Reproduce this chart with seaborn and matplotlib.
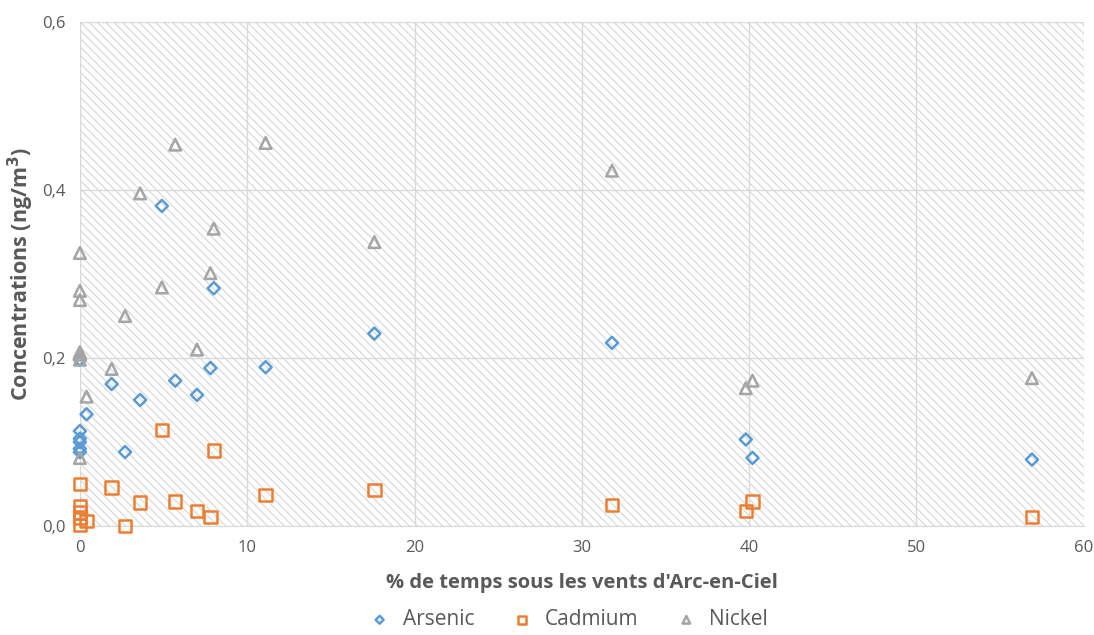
import matplotlib
matplotlib.use('Agg')
import matplotlib.pyplot as plt
import pandas as pd
import numpy as np
import seaborn as sns
from matplotlib.patches import Rectangle
from matplotlib.ticker import FuncFormatter

# Données
arsenic_x = [0, 0, 0, 0, 0, 0, 0.4, 1.9, 2.7, 3.6, 4.9, 5.7, 7.0, 7.8, 8.0, 11.1, 17.6, 31.8, 39.8, 40.2, 56.9]
arsenic_y = [0.198, 0.113, 0.104, 0.100, 0.092, 0.088, 0.133, 0.169, 0.088, 0.150, 0.381, 0.173, 0.156, 0.188, 0.283, 0.189, 0.229, 0.218, 0.103, 0.081, 0.079]

cadmium_x = [0, 0, 0, 0, 0, 0.4, 1.9, 2.7, 3.6, 4.9, 5.7, 7.0, 7.8, 8.0, 11.1, 17.6, 31.8, 39.8, 40.2, 56.9]
cadmium_y = [0.050, 0.023, 0.016, 0.010, 0.001, 0.006, 0.046, 0.000, 0.028, 0.114, 0.029, 0.018, 0.011, 0.090, 0.037, 0.043, 0.025, 0.018, 0.029, 0.011]

nickel_x = [0, 0, 0, 0, 0, 0, 0, 0.4, 1.9, 2.7, 3.6, 4.9, 5.7, 7.0, 7.8, 8.0, 11.1, 17.6, 31.8, 39.8, 40.2, 56.9]
nickel_y = [0.325, 0.280, 0.269, 0.207, 0.204, 0.198, 0.081, 0.154, 0.187, 0.250, 0.396, 0.284, 0.454, 0.210, 0.301, 0.354, 0.456, 0.338, 0.423, 0.164, 0.173, 0.176]

series = [
    ('Arsenic', arsenic_x, arsenic_y, '#5B9BD5', 'D', 38),
    ('Cadmium', cadmium_x, cadmium_y, '#ED7D31', 's', 80),
    ('Nickel', nickel_x, nickel_y, '#A5A5A5', '^', 70),
]

sns.set_style('white')
plt.rcParams['font.family'] = ['Open Sans', 'DejaVu Sans']
plt.rcParams['hatch.linewidth'] = 0.8

fig = plt.figure(figsize=(10.94, 6.35), dpi=100)
ax = fig.add_axes([0.073, 0.1717, 0.9177, 0.7936])

# fond hachuré
fond = Rectangle((0, 0), 1, 1, transform=ax.transAxes, facecolor='white',
                 edgecolor='#d6d6d6', hatch='\\\\\\\\', linewidth=0, zorder=0.1)
ax.add_patch(fond)

for nom, xs, ys, couleur, marqueur, taille in series:
    sns.scatterplot(x=xs, y=ys, ax=ax, marker=marqueur, s=taille,
                    facecolors='none', edgecolor=couleur, linewidth=1.8,
                    label=nom, clip_on=False, zorder=3)

ax.set_xlim(0, 60)
ax.set_ylim(0, 0.6)
ax.set_xticks(np.arange(0, 61, 10))
ax.set_yticks([0, 0.2, 0.4, 0.6])
ax.yaxis.set_major_formatter(FuncFormatter(lambda v, p: ('%.1f' % v).replace('.', ',')))

ax.grid(True, color='#d9d9d9', linewidth=1)
ax.set_axisbelow(True)
for s in ['top', 'right', 'left']:
    ax.spines[s].set_visible(False)
ax.spines['bottom'].set_color('#d9d9d9')
ax.tick_params(length=0, labelsize=12, labelcolor='#595959', pad=10)

ax.set_xlabel("% de temps sous les vents d'Arc-en-Ciel", fontsize=14.5, fontweight='bold',
              color='#595959', labelpad=12)
ax.set_ylabel('Concentrations (ng/m$^\\mathbf{3}$)', fontsize=15.5, fontweight='bold',
              color='#595959', labelpad=5)

handles, labels = ax.get_legend_handles_labels()
ax.get_legend().remove()
fig.legend(handles, labels, loc='lower center', ncol=3, frameon=False,
           bbox_to_anchor=(0.515, -0.022), fontsize=15, labelcolor='#595959',
           handletextpad=0.1, columnspacing=1.3, markerscale=0.65)

fig.savefig('out.png', dpi=100)
